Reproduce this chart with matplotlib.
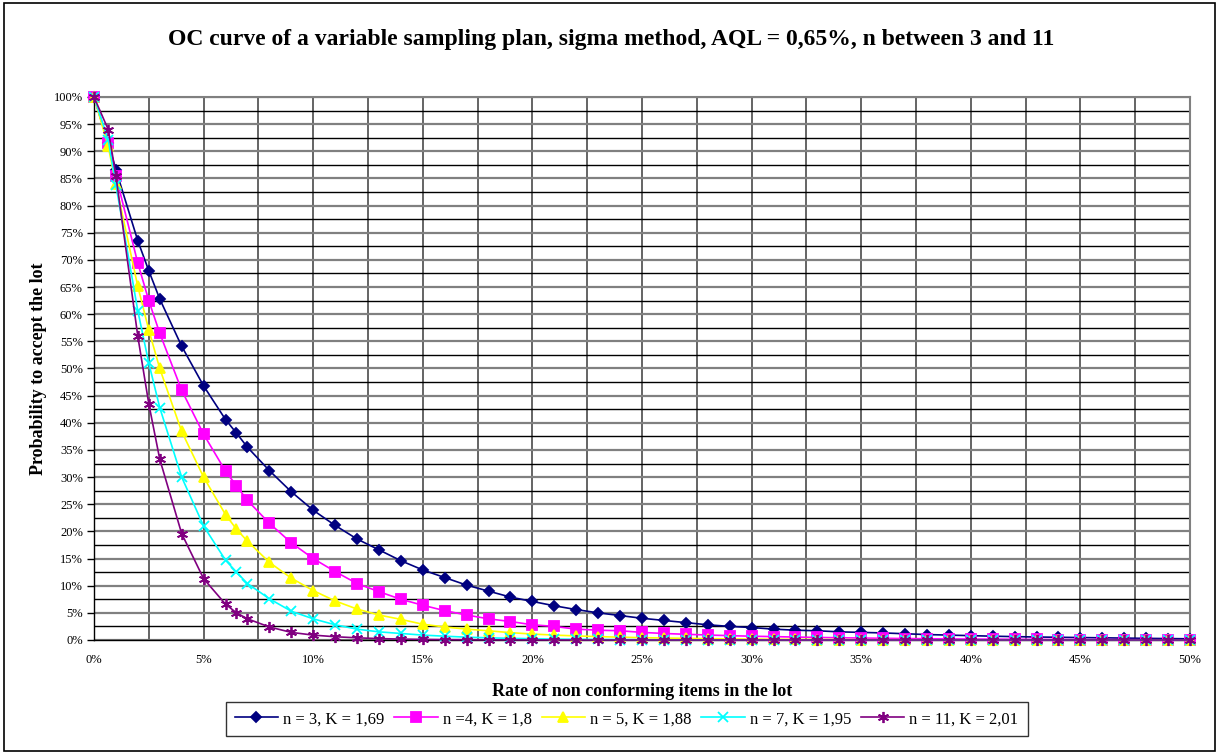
"""
OC curves of a variable sampling plan (sigma method, AQL = 0,65 %).
"""

import matplotlib
matplotlib.use("Agg")
import matplotlib.pyplot as plt
from matplotlib.ticker import MultipleLocator, FuncFormatter
from matplotlib.patches import Rectangle

plt.rcParams["font.family"] = ["Liberation Serif", "DejaVu Serif"]

# rate of non conforming items (%)
rate = [0, 0.65, 1, 2, 2.5, 3, 4, 5, 6, 6.5, 7,
        8, 9, 10, 11, 12, 13, 14, 15, 16, 17,
        18, 19, 20, 21, 22, 23, 24, 25, 26, 27,
        28, 29, 30, 31, 32, 33, 34, 35, 36, 37,
        38, 39, 40, 41, 42, 43, 44, 45, 46, 47,
        48, 49, 50]

# probability of acceptance (%) per plan
pa_n3 = [100, 91.5, 86.6, 73.5, 68.0, 62.8, 54.1, 46.8, 40.6, 38.1, 35.5,
         31.2, 27.3, 23.9, 21.1, 18.6, 16.6, 14.6, 12.9, 11.5, 10.1,
         9.0, 7.9, 7.1, 6.3, 5.6, 5.0, 4.5, 4.0, 3.6, 3.2,
         2.8, 2.5, 2.3, 2.0, 1.8, 1.7, 1.5, 1.4, 1.3, 1.15,
         1.0, 0.9, 0.8, 0.7, 0.62, 0.55, 0.5, 0.45, 0.4, 0.35,
         0.3, 0.26, 0.22]
pa_n4 = [100, 91.5, 85.5, 69.4, 62.5, 56.5, 46.0, 37.9, 31.1, 28.4, 25.7,
         21.5, 17.9, 15.0, 12.6, 10.4, 8.9, 7.5, 6.4, 5.4, 4.6,
         3.9, 3.4, 2.8, 2.5, 2.0, 1.8, 1.7, 1.4, 1.2, 1.05,
         0.92, 0.8, 0.7, 0.62, 0.54, 0.47, 0.41, 0.36, 0.31, 0.27,
         0.23, 0.2, 0.17, 0.15, 0.13, 0.11, 0.09, 0.08, 0.07, 0.06,
         0.05, 0.04, 0.03]
pa_n5 = [100, 90.9, 83.9, 65.1, 57.1, 50.0, 38.4, 30.0, 23.1, 20.4, 18.2,
         14.3, 11.4, 9.1, 7.2, 5.7, 4.6, 3.8, 2.9, 2.4, 2.0,
         1.7, 1.35, 1.1, 0.9, 0.75, 0.62, 0.52, 0.43, 0.36, 0.3,
         0.25, 0.2, 0.17, 0.14, 0.11, 0.09, 0.07, 0.06, 0.05, 0.04,
         0.03, 0.03, 0.02, 0.02, 0.01, 0.01, 0.01, 0.01, 0.0, 0.0,
         0.0, 0.0, 0.0]
pa_n7 = [100, 92.1, 83.8, 60.6, 51.0, 42.8, 30.0, 21.0, 14.7, 12.5, 10.4,
         7.6, 5.3, 3.9, 2.8, 2.0, 1.5, 1.2, 0.9, 0.7, 0.52,
         0.4, 0.3, 0.23, 0.17, 0.13, 0.1, 0.07, 0.05, 0.04, 0.03,
         0.02, 0.02, 0.01, 0.01, 0.01, 0.0, 0.0, 0.0, 0.0, 0.0,
         0.0, 0.0, 0.0, 0.0, 0.0, 0.0, 0.0, 0.0, 0.0, 0.0,
         0.0, 0.0, 0.0]
pa_n11 = [100, 94.0, 85.5, 55.9, 43.5, 33.3, 19.6, 11.3, 6.6, 5.0, 3.9,
          2.4, 1.4, 0.9, 0.6, 0.4, 0.26, 0.17, 0.11, 0.07, 0.05,
          0.03, 0.02, 0.01, 0.01, 0.0, 0.0, 0.0, 0.0, 0.0, 0.0,
          0.0, 0.0, 0.0, 0.0, 0.0, 0.0, 0.0, 0.0, 0.0, 0.0,
          0.0, 0.0, 0.0, 0.0, 0.0, 0.0, 0.0, 0.0, 0.0, 0.0,
          0.0, 0.0, 0.0]

labels = ["n = 3, K = 1,69", "n =4, K = 1,8", "n = 5, K = 1,88",
          "n = 7, K = 1,95", "n = 11, K = 2,01"]
series = [pa_n3, pa_n4, pa_n5, pa_n7, pa_n11]

# colour / marker / marker size per series (Excel defaults)
styles = [
    ("#000080", "D", 5.5),
    ("#FF00FF", "s", 7),
    ("#FFFF00", "^", 6.5),
    ("#00FFFF", "x", 7),
    ("#800080", (6, 2, 0), 8),
]

fig = plt.figure(figsize=(12.19, 7.54), dpi=100)
fig.patches.append(Rectangle((0.003, 0.004), 0.994, 0.992, transform=fig.transFigure,
                             fill=False, edgecolor="black", linewidth=1.2))

ax = fig.add_axes([0.0771, 0.1512, 0.8991, 0.7202])

for vals, lab, (col, mk, ms) in zip(series, labels, styles):
    ax.plot(rate, vals, color=col, marker=mk, markersize=ms, linewidth=1.2,
            markeredgecolor=col, markeredgewidth=1.3, label=lab, zorder=3,
            clip_on=False)

ax.set_xlim(0, 50)
ax.set_ylim(0, 100)
ax.xaxis.set_major_locator(MultipleLocator(5))
ax.xaxis.set_minor_locator(MultipleLocator(2.5))
ax.yaxis.set_major_locator(MultipleLocator(5))
ax.yaxis.set_minor_locator(MultipleLocator(2.5))
pct = FuncFormatter(lambda v, _: f"{v:.0f}%")
ax.xaxis.set_major_formatter(pct)
ax.yaxis.set_major_formatter(pct)

ax.grid(which="major", axis="y", color="#808080", linewidth=1.6)
ax.grid(which="minor", axis="y", color="black", linewidth=1.0)
ax.grid(which="both", axis="x", color="#3a3a3a", linewidth=1.1)
ax.set_axisbelow(True)

ax.tick_params(axis="y", which="major", direction="out", length=5, width=1,
               labelsize=9, pad=3)
ax.tick_params(axis="y", which="minor", length=0)
ax.tick_params(axis="x", which="both", length=0, labelsize=9, pad=10)

for side in ("top", "right"):
    ax.spines[side].set_color("#808080")
    ax.spines[side].set_linewidth(1.5)
for side in ("left", "bottom"):
    ax.spines[side].set_color("black")
    ax.spines[side].set_linewidth(1.0)

ax.set_xlabel("Rate of non conforming items in the lot", fontsize=13,
              fontweight="bold", labelpad=12)
ax.set_ylabel("Probability to accept the lot", fontsize=13,
              fontweight="bold", labelpad=5)

fig.text(0.501, 0.947,
         "OC curve of a variable sampling plan, sigma method, AQL = 0,65%, n between 3 and 11",
         ha="center", va="center", fontsize=17, fontweight="bold")

leg = fig.legend(loc="center", bbox_to_anchor=(0.514, 0.046), ncol=5,
                 frameon=True, fancybox=False, fontsize=12, handlelength=2.6,
                 handletextpad=0.3, columnspacing=0.6, borderpad=0.55,
                 borderaxespad=0)
leg.get_frame().set_edgecolor("black")
leg.get_frame().set_linewidth(1.0)

fig.savefig("out.png", dpi=100)
